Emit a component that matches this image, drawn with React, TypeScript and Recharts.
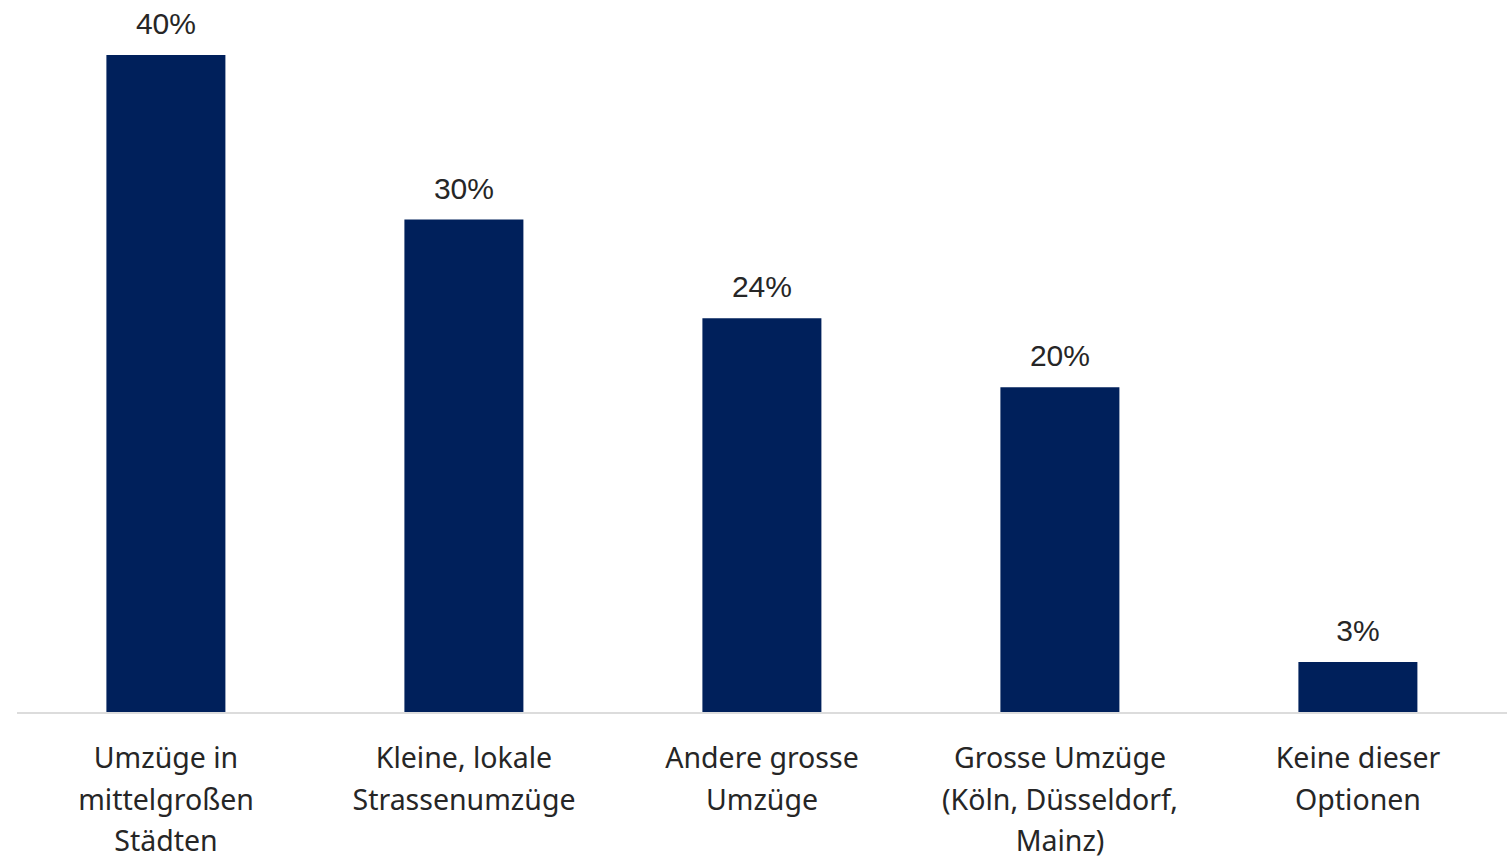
import { BarChart, Bar, XAxis, YAxis, LabelList } from 'recharts'

const categories = [
  'Umzüge in\nmittelgroßen\nStädten',
  'Kleine, lokale\nStrassenumzüge',
  'Andere grosse\nUmzüge',
  'Grosse Umzüge\n(Köln, Düsseldorf,\nMainz)',
  'Keine dieser\nOptionen',
]
const shares = [40, 30, 24, 19.8, 3.1]

const data = categories.map((name, i) => ({ name, share: shares[i] }))

const BAR_COLOR = '#00205b'
const TEXT_COLOR = '#262626'

function CategoryTick(props: any) {
  const { x, y, payload } = props
  const lines = String(payload.value).split('\n')
  return (
    <text
      x={x}
      y={y}
      textAnchor="middle"
      fill={TEXT_COLOR}
      fontFamily="'Noto Sans', sans-serif"
      fontSize={28.5}
    >
      {lines.map((line, i) => (
        <tspan key={i} x={x} dy={i === 0 ? 55 : 41.5}>
          {line}
        </tspan>
      ))}
    </text>
  )
}

export default function App() {
  return (
    <div style={{ position: 'fixed', left: 0, top: 0, background: '#fff' }}>
      <BarChart
        width={1511}
        height={858}
        data={data}
        margin={{ top: 55, right: 4, left: 17, bottom: 0 }}
        barCategoryGap="30%"
      >
        <XAxis
          dataKey="name"
          axisLine={{ stroke: '#dcdcdc', strokeWidth: 2 }}
          tickLine={false}
          tickSize={0}
          tickMargin={0}
          height={145}
          interval={0}
          tick={<CategoryTick />}
        />
        <YAxis hide domain={[0, 40]} />
        <Bar dataKey="share" fill={BAR_COLOR} isAnimationActive={false}>
          <LabelList
            dataKey="share"
            position="top"
            offset={21}
            formatter={(v: any) => `${Math.round(Number(v))}%`}
            fill={TEXT_COLOR}
            fontFamily="'Liberation Sans', Arial, sans-serif"
            fontSize={30}
          />
        </Bar>
      </BarChart>
    </div>
  )
}
